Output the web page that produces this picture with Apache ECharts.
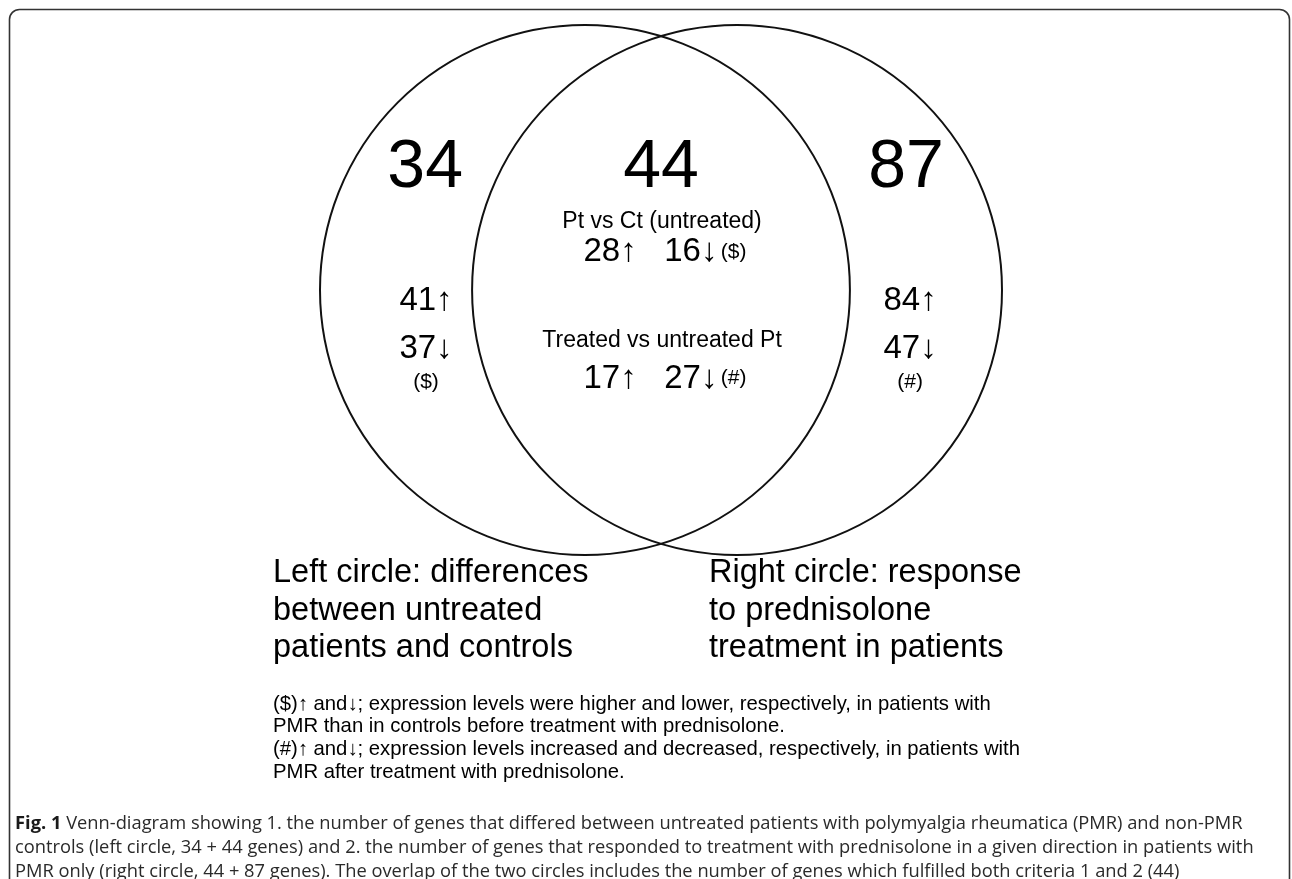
<!DOCTYPE html>
<html>
<head>
<meta charset="utf-8">
<style>
html,body{margin:0;padding:0;background:#ffffff;}
#chart{width:1292px;height:879px;}
</style>
<script src="https://cdn.jsdelivr.net/npm/echarts@6/dist/echarts.min.js"></script>
</head>
<body>
<div id="chart"></div>
<script>
// ---------------- data ----------------
const regionTotals = [34, 44, 87];            // left only, overlap, right only
const leftOnlyUpDown = [41, 37];              // left circle total (34+44): up, down
const rightOnlyUpDown = [84, 47];             // right circle total (44+87): up, down
const overlapUntreated = [28, 16];            // Pt vs Ct (untreated): up, down
const overlapTreated = [17, 27];              // Treated vs untreated Pt: up, down
const overlapRowTitles = ['Pt vs Ct (untreated)', 'Treated vs untreated Pt'];
const markers = ['($)', '(#)'];
const circleCenters = [-0.287, 0.287];        // venn circle centres (radius = 1)
const setLabels = [
  ['Left circle: differences', 'between untreated', 'patients and controls'],
  ['Right circle: response', 'to prednisolone', 'treatment in patients']
];
const footnotes = [
  '($)\u2191 and\u2193; expression levels were higher and lower, respectively, in patients with',
  'PMR than in controls before treatment with prednisolone.',
  '(#)\u2191 and\u2193; expression levels increased and decreased, respectively, in patients with',
  'PMR after treatment with prednisolone.'
];
const captionLead = 'Fig. 1';
const captionLines = [
  ' Venn-diagram showing 1. the number of genes that differed between untreated patients with polymyalgia rheumatica (PMR) and non-PMR',
  'controls (left circle, 34 + 44 genes) and 2. the number of genes that responded to treatment with prednisolone in a given direction in patients with',
  'PMR only (right circle, 44 + 87 genes). The overlap of the two circles includes the number of genes which fulfilled both criteria 1 and 2 (44)'
];

// ---------------- layout / style ----------------
const FONT = '"Liberation Sans", Arial, Helvetica, sans-serif';
const CAP_FONT = '"Open Sans", "Noto Sans", sans-serif';
const UP = '\u2191', DOWN = '\u2193';

// text items placed in the venn data space (x, y in circle-radius units)
const textItems = [
  {x: -0.89, y: 0.462, kind: 'total', text: String(regionTotals[0])},
  {x: 0.0,   y: 0.462, kind: 'total', text: String(regionTotals[1])},
  {x: 0.925, y: 0.462, kind: 'total', text: String(regionTotals[2])},
  {x: 0.004, y: 0.258, kind: 'title', text: overlapRowTitles[0]},
  {x: 0.015, y: 0.145, kind: 'row', text: '{n|' + overlapUntreated[0] + UP + '   ' + overlapUntreated[1] + DOWN + '} {s|' + markers[0] + '}'},
  {x: 0.004, y: -0.193, kind: 'title', text: overlapRowTitles[1]},
  {x: 0.015, y: -0.335, kind: 'row', text: '{n|' + overlapTreated[0] + UP + '   ' + overlapTreated[1] + DOWN + '} {s|' + markers[1] + '}'},
  {x: -0.887, y: -0.04, kind: 'row', text: '{n|' + leftOnlyUpDown[0] + UP + '}'},
  {x: -0.887, y: -0.222, kind: 'row', text: '{n|' + leftOnlyUpDown[1] + DOWN + '}'},
  {x: -0.887, y: -0.348, kind: 'row', text: '{s|' + markers[0] + '}'},
  {x: 0.94, y: -0.04, kind: 'row', text: '{n|' + rightOnlyUpDown[0] + UP + '}'},
  {x: 0.94, y: -0.222, kind: 'row', text: '{n|' + rightOnlyUpDown[1] + DOWN + '}'},
  {x: 0.94, y: -0.348, kind: 'row', text: '{s|' + markers[1] + '}'}
];

const chart = echarts.init(document.getElementById('chart'), null, {renderer: 'canvas'});

// fit caption font to its measured width
function measure(txt, font) {
  const c = document.createElement('canvas').getContext('2d');
  c.font = font;
  return c.measureText(txt).width;
}
const capBase = 17;
const capW = measure(captionLines[0], capBase + 'px ' + CAP_FONT) + measure(captionLead, 'bold ' + capBase + 'px ' + CAP_FONT);
let capSize = capBase * 1228 / capW;
if (!isFinite(capSize) || capSize < 12 || capSize > 22) capSize = 16.5;

const graphics = [
  {type: 'rect', shape: {x: 9.5, y: 9.5, width: 1280, height: 920, r: 10},
   style: {fill: 'none', stroke: '#333333', lineWidth: 1.6}, silent: true}
];
setLabels.forEach(function (lines, i) {
  lines.forEach(function (ln, j) {
    graphics.push({type: 'text', left: i === 0 ? 273 : 709, top: 557 + j * 37.5,
      style: {text: ln, font: '32.5px ' + FONT, fill: '#000'}});
  });
});
footnotes.forEach(function (ln, j) {
  graphics.push({type: 'text', left: 273, top: 694 + j * 22.7,
    style: {text: ln, font: '20.3px ' + FONT, fill: '#000'}});
});
captionLines.forEach(function (ln, j) {
  const el = {type: 'text', left: 15, top: 815 + j * 24};
  if (j === 0) {
    el.style = {text: '{b|' + captionLead + '}{r|' + ln + '}', fill: '#2a2a2a',
      rich: {b: {fontWeight: 'bold', fontSize: capSize, fontFamily: CAP_FONT, fill: '#1a1a1a'},
             r: {fontSize: capSize, fontFamily: CAP_FONT, fill: '#2a2a2a'}}};
  } else {
    el.style = {text: ln, font: capSize + 'px ' + CAP_FONT, fill: '#2a2a2a'};
  }
  graphics.push(el);
});

const option = {
  animation: false,
  backgroundColor: '#ffffff',
  grid: {left: 320, top: 26, width: 682, height: 528, containLabel: false},
  xAxis: {type: 'value', min: -1.287, max: 1.287, show: false},
  yAxis: {type: 'value', min: -1, max: 1, show: false},
  graphic: graphics,
  series: [
    {
      type: 'custom',
      coordinateSystem: 'cartesian2d',
      silent: true,
      data: circleCenters.map(function (cx) { return [cx, 0, 1]; }),
      renderItem: function (params, api) {
        const c = api.coord([api.value(0), api.value(1)]);
        const s = api.size([api.value(2), api.value(2)]);
        return {type: 'circle', shape: {cx: c[0], cy: c[1], r: s[0]},
          style: {fill: 'none', stroke: '#111111', lineWidth: 2}};
      }
    },
    {
      type: 'custom',
      coordinateSystem: 'cartesian2d',
      silent: true,
      data: textItems.map(function (t) { return [t.x, t.y]; }),
      renderItem: function (params, api) {
        const t = textItems[params.dataIndex];
        const p = api.coord([api.value(0), api.value(1)]);
        const st = {x: p[0], y: p[1], textAlign: 'center', textVerticalAlign: 'middle', fill: '#000'};
        if (t.kind === 'total') {
          st.text = t.text; st.font = '68px ' + FONT;
        } else if (t.kind === 'title') {
          st.text = t.text; st.font = '23px ' + FONT;
        } else {
          st.text = t.text;
          st.rich = {
            n: {fontSize: 33, fontFamily: FONT, fill: '#000'},
            s: {fontSize: 21, fontFamily: FONT, fill: '#000'}
          };
        }
        return {type: 'text', style: st};
      }
    }
  ]
};
chart.setOption(option);
</script>
</body>
</html>
